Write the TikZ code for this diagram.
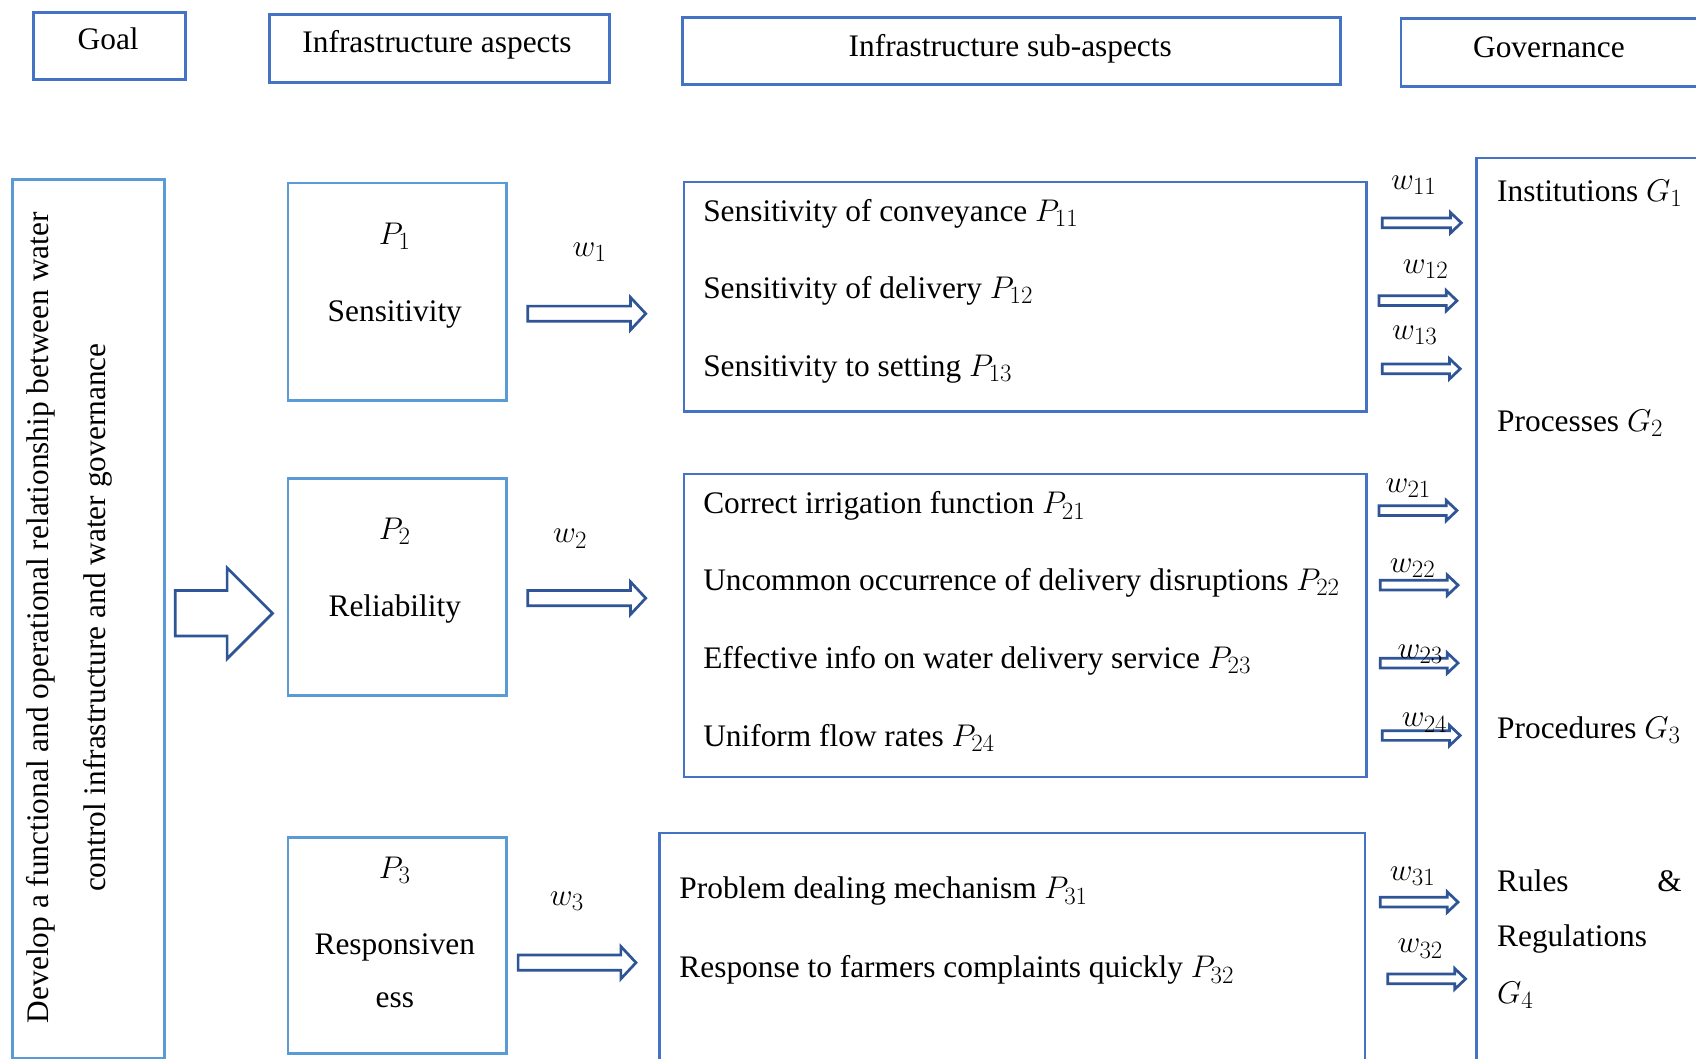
\RequirePackage{fix-cm}
\documentclass[tikz,border=0pt]{standalone}
\usepackage{fontspec}
\setmainfont{Liberation Serif}
\DeclareMathSizes{29}{29}{23}{17}
\usetikzlibrary{calc}
\definecolor{lblue}{HTML}{5B9BD5}
\definecolor{mblue}{HTML}{4472C4}
\definecolor{dblue}{HTML}{2F5597}
\tikzset{
  lbox/.style={draw=lblue, line width=2.5pt, inner sep=0pt, anchor=north west},
  mbox/.style={draw=mblue, line width=2.5pt, inner sep=0pt, anchor=north west},
  openbox/.style={draw=mblue, line width=2.5pt},
  txt/.style={inner sep=0pt, anchor=base west},
  ctxt/.style={inner sep=0pt, anchor=base},
  barrow/.style={draw=dblue, fill=white, line width=2.5pt, line join=miter},
}
% #1 start, #2 tip, #3 shaft half height, #4 head half height, #5 head length
\newcommand{\blockarrow}[5]{%
  \draw[barrow] ($(#1)+(0,#3)$) -- ($(#2)+(-#5,#3)$) -- ($(#2)+(-#5,#4)$) -- (#2)
    -- ($(#2)+(-#5,-#4)$) -- ($(#2)+(-#5,-#3)$) -- ($(#1)+(0,-#3)$) -- cycle;}
\begin{document}
\begin{tikzpicture}[x=1pt,y=-1pt,font={\fontsize{29}{52}\selectfont}]
\clip (0,0) rectangle (1568,979);
\fill[white] (0,0) rectangle (1568,979);

% headers
\node[mbox, minimum width=140pt, minimum height=62pt] (hgoal) at (30,10) {};
\node[ctxt] (thgoal) at (100,46) {Goal};
\node[mbox, minimum width=314pt, minimum height=63pt] (hasp) at (248,12) {};
\node[ctxt] (thasp) at (404,49) {Infrastructure aspects};
\node[mbox, minimum width=608pt, minimum height=62pt] (hsub) at (630,15) {};
\node[ctxt] (thsub) at (934,52) {Infrastructure sub-aspects};
\node[mbox, minimum width=300pt, minimum height=63pt] (hgov) at (1294,16) {};
\node[ctxt] (thgov) at (1432,53) {Governance};

% goal box
\node[lbox, minimum width=141pt, minimum height=812pt] (goal) at (10,165) {};
\node[inner sep=0pt, rotate=90, align=center] (goaltxt) at (64,571)
  {Develop a functional and operational relationship between water\\control infrastructure and water governance};

% big arrow
\coordinate (bas) at (162,567);
\coordinate (bat) at (252,567);
\blockarrow{bas}{bat}{21}{42}{42}

% aspect boxes
\node[lbox, minimum width=202pt, minimum height=201pt] (p1) at (265,168) {};
\node[ctxt] (p1a) at (365,226) {$P_1$};
\node[ctxt] (p1b) at (365,297) {Sensitivity};
\node[lbox, minimum width=202pt, minimum height=201pt] (p2) at (265,441) {};
\node[ctxt] (p2a) at (365,499) {$P_2$};
\node[ctxt] (p2b) at (365,570) {Reliability};
\node[lbox, minimum width=202pt, minimum height=200pt] (p3) at (265,773) {};
\node[ctxt] (p3a) at (365,812) {$P_3$};
\node[ctxt] (p3b) at (365,882) {Responsiven};
\node[ctxt] (p3c) at (365,931) {ess};

% aspect arrows
\coordinate (a1s) at (488,290); \coordinate (a1t) at (597,290);
\blockarrow{a1s}{a1t}{7}{15}{14}
\node[ctxt] (w1) at (545,237) {$w_1$};
\coordinate (a2s) at (488,553); \coordinate (a2t) at (597,553);
\blockarrow{a2s}{a2t}{7}{15}{14}
\node[ctxt] (w2) at (527,502) {$w_2$};
\coordinate (a3s) at (479,890); \coordinate (a3t) at (588,890);
\blockarrow{a3s}{a3t}{7}{15}{14}
\node[ctxt] (w3) at (524,837) {$w_3$};

% sub-aspect boxes
\node[mbox, minimum width=631pt, minimum height=212pt] (s1) at (631,167) {};
\node[txt] (s11) at (650,205) {Sensitivity of conveyance $P_{11}$};
\node[txt] (s12) at (650,276) {Sensitivity of delivery $P_{12}$};
\node[txt] (s13) at (650,348) {Sensitivity to setting $P_{13}$};
\node[mbox, minimum width=631pt, minimum height=280pt] (s2) at (631,437) {};
\node[txt] (s21) at (650,475) {Correct irrigation function $P_{21}$};
\node[txt] (s22) at (650,546) {Uncommon occurrence of delivery disruptions $P_{22}$};
\node[txt] (s23) at (650,618) {Effective info on water delivery service $P_{23}$};
\node[txt] (s24) at (650,690) {Uniform flow rates $P_{24}$};
\coordinate (s3bl) at (610,995); \coordinate (s3tl) at (610,770);
\coordinate (s3tr) at (1262,770); \coordinate (s3br) at (1262,995);
\draw[openbox] (s3bl) -- (s3tl) -- (s3tr) -- (s3br);
\node[txt] (s31) at (628,831) {Problem dealing mechanism $P_{31}$};
\node[txt] (s32) at (628,904) {Response to farmers complaints quickly $P_{32}$};

% governance box
\coordinate (gbl) at (1365,995); \coordinate (gtl) at (1365,146); \coordinate (gtr) at (1590,146);
\draw[openbox] (gbl) -- (gtl) -- (gtr);
\node[txt] (g1) at (1384,186) {Institutions $G_1$};
\node[txt] (g2) at (1384,399) {Processes $G_2$};
\node[txt] (g3) at (1384,683) {Procedures $G_3$};
\node[txt] (g4a) at (1384,824) {Rules};
\node[inner sep=0pt, anchor=base east] (g4b) at (1555,824) {\&};
\node[txt] (g4c) at (1384,875) {Regulations};
\node[txt] (g4d) at (1384,928) {$G_4$};

% small arrows
\coordinate (b11s) at (1278,206); \coordinate (b11t) at (1351,206);
\blockarrow{b11s}{b11t}{4.5}{9.5}{10}
\node[ctxt] (w11) at (1307,175) {$w_{11}$};
\coordinate (b12s) at (1275,278); \coordinate (b12t) at (1347,278);
\blockarrow{b12s}{b12t}{4.5}{9.5}{10}
\node[ctxt] (w12) at (1318,253) {$w_{12}$};
\coordinate (b13s) at (1278,341); \coordinate (b13t) at (1350,341);
\blockarrow{b13s}{b13t}{4.5}{9.5}{10}
\node[ctxt] (w13) at (1308,314) {$w_{13}$};
\coordinate (b21s) at (1275,472); \coordinate (b21t) at (1347,472);
\blockarrow{b21s}{b21t}{4.5}{9.5}{10}
\node[ctxt] (w21) at (1302,455) {$w_{21}$};
\coordinate (b22s) at (1276,541); \coordinate (b22t) at (1348,541);
\blockarrow{b22s}{b22t}{4.5}{9.5}{10}
\node[ctxt] (w22) at (1306,529) {$w_{22}$};
\coordinate (b23s) at (1276,613); \coordinate (b23t) at (1348,613);
\blockarrow{b23s}{b23t}{4.5}{9.5}{10}
\node[ctxt] (w23) at (1313,609) {$w_{23}$};
\coordinate (b24s) at (1278,680); \coordinate (b24t) at (1350,680);
\blockarrow{b24s}{b24t}{4.5}{9.5}{10}
\node[ctxt] (w24) at (1317,672) {$w_{24}$};
\coordinate (b31s) at (1276,834); \coordinate (b31t) at (1348,834);
\blockarrow{b31s}{b31t}{4.5}{9.5}{10}
\node[ctxt] (w31) at (1306,814) {$w_{31}$};
\coordinate (b32s) at (1283,905); \coordinate (b32t) at (1355,905);
\blockarrow{b32s}{b32t}{4.5}{9.5}{10}
\node[ctxt] (w32) at (1313,881) {$w_{32}$};
\end{tikzpicture}
\end{document}
